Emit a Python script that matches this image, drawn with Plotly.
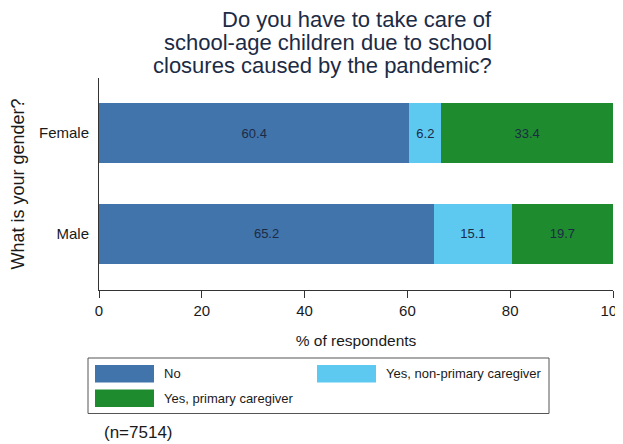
import plotly.graph_objects as go

# data
genders = ['Female', 'Male']
no_vals = [60.4, 65.2]
nonprimary_vals = [6.2, 15.1]
primary_vals = [33.4, 19.7]

series_names = ['No', 'Yes, non-primary caregiver', 'Yes, primary caregiver']
series_colors = ['#4174ab', '#5ec9f0', '#1f8b2f']
x_ticks = [0, 20, 40, 60, 80, 100]
title_lines = ['Do you have to take care of',
               'school-age children due to school',
               'closures caused by the pandemic?']

# the page body has an 8px margin, so the figure sits at (8, 8) in the window
OFF = 8
W, H = 623 - OFF, 444 - OFF
L, R, T, B = 99 - OFF, 10, 78 - OFF, 154
plot_w = W - L - R
plot_h = H - T - B


def px(x):
    # window pixel -> paper coordinate
    return (x - OFF - L) / plot_w


def py(y):
    return (H - B - (y - OFF)) / plot_h


fig = go.Figure()
for name, vals, col in zip(series_names, [no_vals, nonprimary_vals, primary_vals], series_colors):
    fig.add_trace(go.Bar(
        y=genders, x=vals, name=name, orientation='h',
        marker=dict(color=col, line=dict(width=0)),
        text=[f'{v:.1f}' for v in vals],
        textposition='inside', insidetextanchor='middle',
        textfont=dict(color='#1c2b45', size=13, family='Liberation Sans, Arial'),
        showlegend=False,
    ))

fig.update_layout(
    width=W, height=H,
    margin=dict(l=L, r=R, t=T, b=B),
    barmode='stack', bargap=0.41,
    paper_bgcolor='white', plot_bgcolor='white',
    font=dict(family='Liberation Sans, Arial', color='#1a1a1a'),
    xaxis=dict(range=[0, 100], tickvals=x_ticks, showgrid=False, zeroline=False,
               automargin=False, ticklabeloverflow='allow',
               showline=True, linecolor='#333333', linewidth=1,
               ticks='outside', ticklen=7, tickcolor='#333333',
               tickfont=dict(size=15, color='#1a1a1a'),
               title=dict(text='% of respondents', font=dict(size=15.5), standoff=17)),
    yaxis=dict(range=[1.555, -0.545], showgrid=False, zeroline=False,
               automargin=False,
               showline=True, linecolor='#333333', linewidth=1, ticks='',
               ticklabelstandoff=6, tickfont=dict(size=15, color='#1a1a1a'),
               title=dict(text='What is your gender?', font=dict(size=18), standoff=14)),
)

# title, one line per annotation to keep the tight line spacing
for i, line in enumerate(title_lines):
    fig.add_annotation(
        text=line, xref='paper', yref='paper', x=px(494), y=py(19.5 + 23 * i),
        xanchor='right', yanchor='middle', showarrow=False,
        font=dict(size=22, color='#1c2b45', family='Liberation Sans, Arial'),
    )

# legend box
fig.add_shape(type='rect', xref='paper', yref='paper',
              x0=px(88), x1=px(549), y0=py(358), y1=py(413.5),
              line=dict(color='#555555', width=1), fillcolor='white')
legend_items = [(95, 365, 0), (317, 365, 1), (95, 389.5, 2)]
for lx, ly, i in legend_items:
    fig.add_shape(type='rect', xref='paper', yref='paper',
                  x0=px(lx), x1=px(lx + 59), y0=py(ly), y1=py(ly + 17.5),
                  line=dict(width=0), fillcolor=series_colors[i])
    fig.add_annotation(text=series_names[i], xref='paper', yref='paper',
                       x=px(lx + 67), y=py(ly + 8.5), xanchor='left', yanchor='middle',
                       showarrow=False, font=dict(size=13, color='#1a1a1a'))

fig.add_annotation(text='(n=7514)', xref='paper', yref='paper',
                   x=px(102), y=py(432), xanchor='left', yanchor='middle',
                   showarrow=False, font=dict(size=17, color='#1a1a1a'))

fig.write_html('out.html')
